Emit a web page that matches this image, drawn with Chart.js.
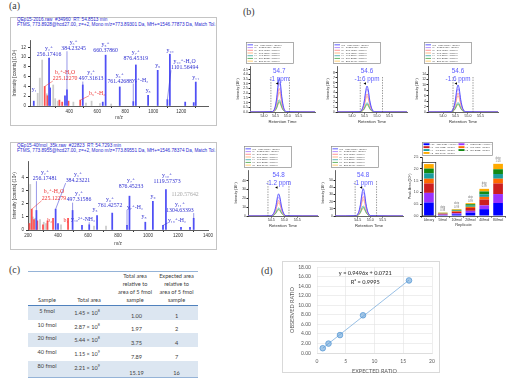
<!DOCTYPE html>
<html><head><meta charset="utf-8">
<script src="https://cdn.jsdelivr.net/npm/chart.js@4.4.1/dist/chart.umd.min.js"></script>
<style>
html,body{margin:0;padding:0;background:#fff;}
body{width:515px;height:383px;overflow:hidden;position:relative;font-family:'Liberation Sans',Arial,sans-serif;}
canvas{position:absolute;}
.pl{position:absolute;font-family:'Liberation Serif','DejaVu Serif',serif;font-size:10px;color:#3a3a3a;line-height:10px;}
.box{position:absolute;border:1px solid #c4c4c4;box-sizing:border-box;background:#fff;}
.hdr{position:absolute;font-size:4.7px;line-height:5px;color:#2a2ad0;white-space:nowrap;overflow:hidden;}
table{position:absolute;border-collapse:collapse;font-family:Lato,'Open Sans',sans-serif;font-size:5.6px;color:#404040;table-layout:fixed;}
th{padding:0 0 1px 0;font-weight:normal;text-align:center;vertical-align:bottom;line-height:8px;white-space:nowrap;}
td{padding:0;text-align:center;white-space:nowrap;line-height:7px;}
.dbox{position:absolute;border:1px solid #d9d9d9;box-sizing:border-box;}
</style></head><body>
<div class="pl" style="left:9px;top:1px">(a)</div>
<div class="pl" style="left:243px;top:7px">(b)</div>
<div class="pl" style="left:9px;top:265px">(c)</div>
<div class="pl" style="left:261px;top:266px">(d)</div>
<div class="box" style="left:10px;top:17px;width:207px;height:109px"></div>
<div class="hdr" style="left:17px;top:16.5px;width:199px">QEp15-2016.raw&nbsp; #34960&nbsp; RT: 54.8513 min<br>FTMS, 773.8928@hcd27.00, z=+2, Mono m/z=773.89301 Da, MH+=1546.77873 Da, Match Tol.=10 ppm</div>
<div class="box" style="left:10px;top:142px;width:207px;height:108px"></div>
<div class="hdr" style="left:17px;top:142.5px;width:199px">QEp15-40fmol_35k.raw&nbsp; #22823&nbsp; RT: 54.7293 min<br>FTMS, 773.8955@hcd27.00, z=+2, Mono m/z=773.89551 Da, MH+=1546.78374 Da, Match Tol.=10 ppm</div>
<div class="dbox" style="left:282px;top:261px;width:158px;height:112px"></div>
<table id="tbl" style="left:28px;top:271px;width:170px">
<colgroup><col style="width:38px"><col style="width:46px"><col style="width:46px"><col style="width:40px"></colgroup>
<thead><tr style="height:34px;border-top:1px solid #95b3d7;border-bottom:1px solid #4f81bd">
<th>Sample</th><th>Total area</th><th>Total area<br>relative to<br>area of 5 fmol<br>sample</th><th style="padding-right:3px">Expected area<br>relative to<br>area of 5 fmol<br>sample</th></tr></thead>
<tbody id="tb"></tbody></table>
<script>
// ---------- (a) spectra ----------
const a1BlueMz=[147,256.17,264,370,384.23,497.32,640,660.38,761.43,858,876.45,964,1032.54,1101.56,1119.57,1229,1290,1304.63];
const a1BlueI=[1.0,9.8,3.7,2.1,3.3,4.3,0.8,10.4,3.9,0.9,8.4,2.2,7.3,1.3,10.6,0.8,0.7,4.9];
const a1RedMz=[225.12,245,330,350,395,479];
const a1RedI=[4.0,2.1,1.2,0.8,1.0,1.2];
const a1GrayMz=[175,190,207,240,286,300,318,430,520,560,620,700];
const a1GrayI=[2.6,5.7,9.4,2.5,4.3,1.5,1.0,0.8,0.6,1.0,0.5,0.4];
const a1Labels=[
 [['y₁'],150,2.9,null,null,'y'],
 [['y₂⁺','256.17416'],256,10.0,null,null,'y'],
 [['b₂⁺-H₂O','225.12270'],371,5.1,225.12,4.0,'b'],
 [['y₃⁺','384.23245'],432,11.2,384.23,3.3,'y'],
 [['y₄⁺','497.31613'],557,5.0,497.32,4.3,'y'],
 [['b₅⁺-H₂'],600,2.1,479,1.2,'b'],
 [['y₅⁺','660.37860'],660,10.8,null,null,'y'],
 [['y₆⁺','761.42688'],761,4.4,null,null,'y'],
 [['y₇⁺','876.45319'],876,9.2,null,null,'y'],
 [['y₇⁺-H₂'],907,4.6,858,0.9,'y'],
 [['y₈'],964,2.6,null,null,'y'],
 [['y₉'],1032,7.8,null,null,'y'],
 [['y₁₀'],1120,10.9,null,null,'y'],
 [['y₁₀⁺-H₂O','1101.56494'],1225,7.3,1101.56,1.3,'y'],
 [['y₁₁'],1304,5.3,null,null,'y']
];
const a2BlueMz=[256.17,384.23,400,497.32,560,608,660.38,761.43,860,876.45,982,1032.54,1100,1119.57,1220,1280,1304.63];
const a2BlueI=[1.5,1.6,0.5,1.5,0.35,0.4,1.1,1.3,0.35,2.6,0.6,2.2,0.35,3.1,0.2,0.2,0.9];
const a2RedMz=[210,225.12,240,262,300,330,367,467];
const a2RedI=[0.5,1.6,0.8,0.7,0.4,0.7,0.9,0.9];
const a2GrayMz=[215,232,248,280,305,320,420,640,720];
const a2GrayI=[3.5,1.0,0.9,0.8,0.6,0.5,0.4,0.3,0.3];
const a2Labels=[
 [['b₂⁺-H₂O','225.12279'],373,2.25,225.12,1.6,'b'],
 [['y₂⁺','256.17481'],313,3.75,256.17,1.5,'y'],
 [['y₃⁺','384.23221'],533,3.6,384.23,1.6,'y'],
 [['b₃'],345,0.55,null,null,'b'],
 [['b₄'],453,0.55,null,null,'b'],
 [['y₄⁺','497.31586'],540,2.1,497.32,1.5,'y'],
 [['y₁₀²⁺-NH₃'],567,0.6,608,0.4,'y'],
 [['y₅'],647,1.4,null,null,'y'],
 [['y₆⁺','761.42572'],747,1.65,null,null,'y'],
 [['y₇⁺','876.45233'],887,3.1,null,null,'y'],
 [['y₇⁺-H₂'],913,1.55,860,0.35,'y'],
 [['y₈'],973,0.85,null,null,'y'],
 [['y₉'],1033,2.35,null,null,'y'],
 [['y₁₀⁺','1119.57373'],1127,3.5,null,null,'y'],
 [['1120.57642'],1247,2.5,null,null,'u'],
 [['y₁₁⁺','1304.63393'],1213,1.3,1304.63,0.9,'y'],
 [['y₁₀⁺-H₂'],1193,0.55,1100,0.35,'y']
];

// ---------- (b) chromatograms ----------
const chromLabels=['y10 - 1119.5737+ (heavy)','y9 - 1032.5420+ (heavy)','y7 - 876.4523+ (heavy)','y6 - 761.4257+ (heavy)','y4 - 497.3159+ (heavy)','y3 - 384.2322+ (heavy)','y2 - 256.1748+ (heavy)'];
const c1Rt=[53.4,54.35,54.47,54.55,54.61,54.66,54.71,54.77,54.85,54.97,56.2];
const c1Y10=[0,0.04,0.43,1.51,2.95,3.6,3.06,1.62,0.47,0.04,0];
const c1Y9=[0,0.03,0.37,1.30,2.54,3.1,2.64,1.40,0.40,0.03,0];
const c1Y7=[0,0.03,0.30,1.05,2.05,2.5,2.13,1.13,0.33,0.03,0];
const c1Y6=[0,0.02,0.25,0.88,1.72,2.1,1.79,0.95,0.27,0.02,0];
const c1Y4=[0,0.01,0.16,0.55,1.07,1.3,1.11,0.59,0.17,0.01,0];
const c1Y3=[0,0.01,0.13,0.46,0.90,1.1,0.94,0.50,0.14,0.01,0];
const c1Y2=[0,0.01,0.12,0.42,0.82,1.0,0.85,0.45,0.13,0.01,0];
const c2Rt=[53.4,54.29,54.41,54.49,54.55,54.60,54.65,54.71,54.79,54.91,56.2];
const c2Y10=[0,0.05,0.64,2.23,4.35,5.3,4.5,2.39,0.69,0.05,0];
const c2Y9=[0,0.05,0.56,1.97,3.85,4.7,4.0,2.12,0.61,0.05,0];
const c2Y7=[0,0.04,0.44,1.55,3.03,3.7,3.15,1.67,0.48,0.04,0];
const c2Y6=[0,0.03,0.38,1.34,2.62,3.2,2.72,1.44,0.42,0.03,0];
const c2Y4=[0,0.02,0.23,0.80,1.56,1.9,1.62,0.86,0.25,0.02,0];
const c2Y3=[0,0.02,0.19,0.67,1.31,1.6,1.36,0.72,0.21,0.02,0];
const c2Y2=[0,0.01,0.17,0.59,1.15,1.4,1.19,0.63,0.18,0.01,0];
const c3Rt=[53.4,54.29,54.41,54.49,54.55,54.60,54.65,54.71,54.79,54.91,56.2];
const c3Y10=[0,0.1,1.2,4.2,8.2,10,8.5,4.5,1.3,0.1,0];
const c3Y9=[0,0.09,1.03,3.61,7.05,8.6,7.31,3.87,1.12,0.09,0];
const c3Y7=[0,0.07,0.84,2.94,5.74,7,5.95,3.15,0.91,0.07,0];
const c3Y6=[0,0.06,0.72,2.52,4.92,6,5.1,2.7,0.78,0.06,0];
const c3Y4=[0,0.04,0.42,1.47,2.87,3.5,2.98,1.58,0.46,0.04,0];
const c3Y3=[0,0.03,0.36,1.26,2.46,3.0,2.55,1.35,0.39,0.03,0];
const c3Y2=[0,0.03,0.32,1.13,2.21,2.7,2.3,1.22,0.35,0.03,0];
const c4Rt=[53.6,54.47,54.59,54.67,54.73,54.78,54.83,54.89,54.97,55.09,56.3];
const c4Y10=[0,0.25,3.0,10.5,20.5,25,21.3,11.3,3.3,0.25,0];
const c4Y9=[0,0.22,2.58,9.03,17.6,21.5,18.3,9.68,2.8,0.22,0];
const c4Y7=[0,0.18,2.1,7.35,14.4,17.5,14.9,7.88,2.28,0.18,0];
const c4Y6=[0,0.15,1.8,6.3,12.3,15,12.8,6.75,1.95,0.15,0];
const c4Y4=[0,0.09,1.08,3.78,7.38,9,7.65,4.05,1.17,0.09,0];
const c4Y3=[0,0.08,0.9,3.15,6.15,7.5,6.38,3.38,0.98,0.08,0];
const c4Y2=[0,0.07,0.82,2.86,5.58,6.8,5.78,3.06,0.88,0.07,0];
const c5Rt=[53.6,54.41,54.53,54.61,54.67,54.72,54.77,54.83,54.91,55.03,56.3];
const c5Y10=[0,0.38,4.56,16,31.2,38,32.3,17.1,4.94,0.38,0];
const c5Y9=[0,0.33,3.96,13.9,27.1,33,28.1,14.9,4.29,0.33,0];
const c5Y7=[0,0.27,3.24,11.3,22.1,27,23,12.2,3.51,0.27,0];
const c5Y6=[0,0.23,2.76,9.66,18.9,23,19.6,10.4,2.99,0.23,0];
const c5Y4=[0,0.14,1.68,5.88,11.5,14,11.9,6.3,1.82,0.14,0];
const c5Y3=[0,0.12,1.44,5.04,9.84,12,10.2,5.4,1.56,0.12,0];
const c5Y2=[0,0.11,1.26,4.41,8.61,10.5,8.93,4.73,1.37,0.11,0];
const chromPeakRt=[54.66,54.60,54.60,54.78,54.72];
const chromRtText=['54.7','54.6','54.6','54.8','54.8'];
const chromPpmText=['-1 ppm','-1.6 ppm','-1.6 ppm','-1.2 ppm','-1 ppm'];
const chromBounds=[[54.3,55.1],[54.33,55.22],[54.4,55.2],[54.37,55.18],[54.4,55.25]];

// bar chart of peak areas
const barCats=['Library','5fmol','10fmol','20fmol','40fmol','80fmol'];
const barY10=[0.57,0.035,0.07,0.14,0.29,0.55];
const barY9=[0.41,0.025,0.045,0.08,0.16,0.38];
const barY7=[0.40,0.03,0.06,0.12,0.25,0.45];
const barY6=[0.20,0.015,0.03,0.05,0.11,0.20];
const barY4=[0.23,0.013,0.027,0.05,0.11,0.20];
const barY3=[0.20,0.015,0.03,0.06,0.12,0.20];
const barY2=[0.19,0.012,0.025,0.044,0.11,0.23];
const barDotp=['','0.98','0.99','0.99','0.99','1.00'];

// ---------- (c) table ----------
const tSample=['5 fmol','10 fmol','20 fmol','40 fmol','80 fmol'];
const tTotalMant=['1.45','2.87','5.44','1.15','2.21'];
const tTotalExp=['8','8','8','9','9'];
const tRelative=['1.00','1.97','3.75','7.89','15.19'];
const tExpected=['1','2','4','7','16'];

// ---------- (d) ratio plot ----------
const dExpected=[1,2,4,8,16];
const dObserved=[1.00,1.97,3.75,7.89,15.19];
const dTrendX=[1,16];
const dTrendY=[1.02,15.27];

// ================= drawing =================
Chart.defaults.font.family="'Liberation Sans', Arial, sans-serif";
Chart.defaults.color='#333';

function mk(L,T,W,H,pl,pt,pr,pb,cfg){
  const c=document.createElement('canvas');
  c.width=W;c.height=H;
  c.style.left=L+'px';c.style.top=T+'px';c.style.width=W+'px';c.style.height=H+'px';
  document.body.appendChild(c);
  const o=cfg.options;
  o.responsive=false;o.maintainAspectRatio=false;o.animation=false;o.devicePixelRatio=1;o.events=[];
  o.layout={padding:{left:0,top:pt-T,right:L+W-pr,bottom:0}};
  o.plugins=Object.assign({legend:{display:false},tooltip:{enabled:false}},o.plugins||{});
  const yW=pl-L,xH=T+H-pb;
  o.scales.x.afterFit=s=>{s.height=xH;s.paddingLeft=0;s.paddingRight=0;s.paddingTop=0;s.paddingBottom=0;};
  o.scales.y.afterFit=s=>{s.width=yW;s.paddingLeft=0;s.paddingRight=0;s.paddingTop=0;s.paddingBottom=0;};
  return new Chart(c.getContext('2d'),cfg);
}
function stepFilter(step){return s=>{s.ticks=s.ticks.filter(t=>Math.abs(t.value/step-Math.round(t.value/step))<1e-6);};}

function specLabels(labels){
  return {id:'sl',afterDatasetsDraw(chart){
    const ctx=chart.ctx,x=chart.scales.x,y=chart.scales.y;
    ctx.save();ctx.font='5.8px "Liberation Serif","DejaVu Serif",serif';ctx.textAlign='center';ctx.textBaseline='alphabetic';
    labels.forEach(l=>{
      const [lines,lx,ly,pm,pi,kind]=l;
      const col=kind==='b'?'#ee3030':kind==='u'?'#a8a8a8':'#3030d0';
      const px=x.getPixelForValue(lx),py=y.getPixelForValue(ly);
      ctx.fillStyle=col;let w=0;const lh=6.2;
      lines.forEach((s,i)=>{ctx.fillText(s,px,py-1.2-(lines.length-1-i)*lh);w=Math.max(w,ctx.measureText(s).width);});
      if(pm!==null){
        const tx=x.getPixelForValue(pm),ty=y.getPixelForValue(pi);
        const sx=Math.min(Math.max(tx,px-w/2),px+w/2);
        ctx.strokeStyle=col;ctx.lineWidth=0.5;ctx.beginPath();ctx.moveTo(sx,py);ctx.lineTo(tx,ty);ctx.stroke();
      }
    });
    ctx.restore();
  }};
}
function spectrum(L,T,W,H,pl,pt,pr,pb,xmin,xmax,ymax,ystep,bm,bi,rm,ri,gm,gi,labels,xtp){
  const pts=(m,v)=>m.map((q,k)=>({x:q,y:v[k]}));
  const ds=(d,c)=>({data:d,backgroundColor:c,barThickness:1.1,grouped:false});
  return mk(L,T,W,H,pl,pt,pr,pb,{type:'bar',
    data:{datasets:[ds(pts(bm,bi),'#5050f5'),ds(pts(rm,ri),'#ff5050'),ds(pts(gm,gi),'#cbcbcb')]},
    options:{scales:{
      x:{type:'linear',offset:false,min:xmin,max:xmax,afterBuildTicks:stepFilter(200),
         ticks:{stepSize:200,font:{size:4.5},padding:1,maxRotation:0,autoSkip:false,color:'#333',callback:v=>String(Math.round(v))},
         grid:{drawOnChartArea:false,tickLength:2,color:'#333'},border:{color:'#333',width:0.8},
         title:{display:true,text:'m/z',font:{size:4.7},padding:xtp,color:'#333'}},
      y:{min:0,max:ymax,afterBuildTicks:stepFilter(ystep),
         ticks:{stepSize:ystep,font:{size:4.5},padding:2,autoSkip:false,color:'#333',callback:v=>String(Math.round(v))},
         grid:{drawOnChartArea:false,tickLength:2,color:'#333'},border:{color:'#333',width:0.8},
         title:{display:true,text:'Intensity [counts] (10⁴)',font:{size:4.7},padding:1.2,color:'#333'}}
    }},
    plugins:[specLabels(labels)]});
}
spectrum(11,27,205,98,30,40,208,106,120,1392,13.5,2,a1BlueMz,a1BlueI,a1RedMz,a1RedI,a1GrayMz,a1GrayI,a1Labels,4.2);
spectrum(11,152,205,97,28,161,208,230,200,1400,5.3,1,a2BlueMz,a2BlueI,a2RedMz,a2RedI,a2GrayMz,a2GrayI,a2Labels,2.2);

// chromatograms
const chromColors=['#4b4bff','#b088ff','#ff8a8a','#ffb07a','#4cb0b0','#58b058','#ffc864'];
function chromDeco(idx){
  return {id:'cd',afterDraw(chart){
    const ctx=chart.ctx,a=chart.chartArea,x=chart.scales.x;
    ctx.save();
    ctx.strokeStyle='#555';ctx.lineWidth=0.6;ctx.setLineDash([1.4,1.2]);
    chromBounds[idx].forEach(b=>{const px=x.getPixelForValue(b);ctx.beginPath();ctx.moveTo(px,a.top+11);ctx.lineTo(px,a.bottom);ctx.stroke();});
    ctx.setLineDash([]);
    const px=x.getPixelForValue(chromPeakRt[idx]);
    ctx.fillStyle='#5a5aff';ctx.font='6.3px "Liberation Sans"';ctx.textAlign='center';ctx.textBaseline='middle';
    ctx.fillText(chromRtText[idx],px,a.top+5.5);ctx.fillText(chromPpmText[idx],px,a.top+13.5);
    ctx.fillStyle='#000';ctx.beginPath();ctx.moveTo(px-3.5,a.top+17.5);ctx.lineTo(px-1,a.top+16.3);ctx.lineTo(px-1,a.top+18.7);ctx.closePath();ctx.fill();
    const lx=a.left-4,ly=a.top-24,lw=47,lh=21;
    ctx.fillStyle='#fff';ctx.fillRect(lx,ly,lw,lh);
    ctx.strokeStyle='#8a8a8a';ctx.lineWidth=0.7;ctx.strokeRect(lx+0.5,ly+0.5,lw,lh);
    ctx.font='2.5px "Liberation Sans"';ctx.textAlign='left';ctx.textBaseline='middle';
    const rh=(lh-2)/chromLabels.length;
    chromLabels.forEach((t,i)=>{const yy=ly+1.5+rh*(i+0.5);
      ctx.strokeStyle=chromColors[i];ctx.lineWidth=0.9;ctx.beginPath();ctx.moveTo(lx+1.5,yy);ctx.lineTo(lx+7,yy);ctx.stroke();
      ctx.fillStyle='#444';ctx.fillText(t,lx+8,yy);});
    ctx.restore();
  }};
}
function chrom(idx,L,T,W,H,pl,pt,pr,pb,rt,series,xmin,xmax,ymax,ystep,ydec){
  const dsets=series.map((s,i)=>({data:rt.map((r,k)=>({x:r,y:s[k]})),borderColor:chromColors[i],borderWidth:i===0?0.9:0.8,pointRadius:0,cubicInterpolationMode:'monotone',fill:false}));
  return mk(L,T,W,H,pl,pt,pr,pb,{type:'line',data:{datasets:dsets},
    options:{scales:{
      x:{type:'linear',min:xmin,max:xmax,afterBuildTicks:stepFilter(0.5),
         ticks:{stepSize:0.5,font:{size:3.6},padding:0.8,maxRotation:0,autoSkip:false,callback:v=>v.toFixed(1),color:'#333'},
         grid:{drawOnChartArea:false,tickLength:1.5,color:'#222'},border:{color:'#222',width:0.7},
         title:{display:true,text:'Retention Time',font:{size:4.2},padding:1.8,color:'#333'}},
      y:{min:0,max:ymax,afterBuildTicks:stepFilter(ystep),
         ticks:{stepSize:ystep,font:{size:3.4},padding:0.6,autoSkip:false,callback:v=>v.toFixed(ydec),color:'#333'},
         grid:{drawOnChartArea:false,tickLength:1.5,color:'#222'},border:{color:'#222',width:0.7},
         title:{display:true,text:'Intensity (10⁴)',font:{size:3.4},padding:2,color:'#333'}}
    }},
    plugins:[chromDeco(idx)]});
}
chrom(0,234,38,86,88,250,66,315,112,c1Rt,[c1Y10,c1Y9,c1Y7,c1Y6,c1Y4,c1Y3,c1Y2],53.4,56.2,4.9,0.5,1);
chrom(1,324,38,88,88,337,66,407,112,c2Rt,[c2Y10,c2Y9,c2Y7,c2Y6,c2Y4,c2Y3,c2Y2],53.4,56.2,9.4,1,0);
chrom(2,413,38,90,88,428,66,498,112,c3Rt,[c3Y10,c3Y9,c3Y7,c3Y6,c3Y4,c3Y3,c3Y2],53.4,56.2,17,2,0);
chrom(3,232,142,90,88,248,170,318,216,c4Rt,[c4Y10,c4Y9,c4Y7,c4Y6,c4Y4,c4Y3,c4Y2],53.6,56.3,52,10,0);
chrom(4,319,142,88,88,335,170,403,216,c5Rt,[c5Y10,c5Y9,c5Y7,c5Y6,c5Y4,c5Y3,c5Y2],53.6,56.3,64,10,0);

// stacked bars
const barColors=['#0000ff','#9933ff','#cc1f1f','#ff6a00','#1a9e9e','#138a13','#ffaa00'];
const barSeries=[barY10,barY9,barY7,barY6,barY4,barY3,barY2];
const barDeco={id:'bd',afterDraw(chart){
  const ctx=chart.ctx,a=chart.chartArea;
  ctx.save();
  const lx=a.left,ly=a.top-15,lw=70,lh=13;
  ctx.fillStyle='#fff';ctx.fillRect(lx,ly,lw,lh);ctx.strokeStyle='#8a8a8a';ctx.lineWidth=0.7;ctx.strokeRect(lx+0.5,ly+0.5,lw,lh);
  ctx.font='2.4px "Liberation Sans"';ctx.textBaseline='middle';ctx.textAlign='left';
  chromLabels.forEach((t,i)=>{const cx=lx+1.5+(i%2)*35,cy=ly+2.2+Math.floor(i/2)*2.9;
    ctx.fillStyle=barColors[i];ctx.fillRect(cx,cy-0.9,6,1.9);ctx.fillStyle='#444';ctx.fillText(t,cx+7,cy);});
  const last=chart.getDatasetMeta(barSeries.length-1);
  last.data.forEach((el,i)=>{
    if(i===0){ctx.strokeStyle='#222';ctx.lineWidth=0.7;ctx.strokeRect(el.x-el.width/2-2,el.y-1.5,el.width+4,a.bottom-el.y+1.5);return;}
    ctx.fillStyle='#777';ctx.font='2.6px "Liberation Sans"';ctx.textAlign='center';ctx.textBaseline='bottom';
    ctx.fillText('dotp',el.x,el.y-4.2);ctx.fillText(barDotp[i],el.x,el.y-1);
  });
  ctx.restore();
}};
mk(406,138,103,91,422,157,505,216,{type:'bar',
  data:{labels:barCats,datasets:barSeries.map((s,i)=>({data:s,backgroundColor:barColors[i],barPercentage:0.7,categoryPercentage:1}))},
  options:{scales:{
    x:{stacked:true,ticks:{font:{size:3.4},padding:0.6,maxRotation:0,autoSkip:false,color:'#333'},
       grid:{drawOnChartArea:false,tickLength:1.5,color:'#222'},border:{color:'#222',width:0.7},
       title:{display:true,text:'Replicate',font:{size:4},padding:1.6,color:'#333'}},
    y:{stacked:true,min:0,max:2.5,ticks:{stepSize:0.5,font:{size:3.4},padding:1.5,callback:v=>v.toFixed(1),color:'#333'},
       grid:{drawOnChartArea:false,tickLength:2,color:'#222'},border:{color:'#222',width:0.7},
       title:{display:true,text:'Peak Area (10⁹)',font:{size:3.6},padding:1.6,color:'#333'}}
  }},plugins:[barDeco]});

// table rows
const tb=document.getElementById('tb');
const rowH=[14,13,14,14,17];
tSample.forEach((s,i)=>{
  const tr=document.createElement('tr');
  tr.style.height=rowH[i]+'px';
  if(i%2===0)tr.style.background='#dce6f1';
  if(i===tSample.length-1)tr.style.borderBottom='1px solid #95b3d7';
  tr.innerHTML='<td style="vertical-align:top;padding-top:1px">'+s+'</td>'+
    '<td style="vertical-align:top;padding-top:1px;padding-right:4px">'+tTotalMant[i]+' × 10<sup style="font-size:3.6px">'+tTotalExp[i]+'</sup></td>'+
    '<td style="vertical-align:bottom;padding-bottom:1px;padding-left:3px">'+tRelative[i]+'</td>'+
    '<td style="vertical-align:bottom;padding-bottom:1px;padding-right:3px">'+tExpected[i]+'</td>';
  tb.appendChild(tr);
});

// (d) scatter with trend line
const dDeco={id:'dd',afterDatasetsDraw(chart){
  const ctx=chart.ctx,x=chart.scales.x,y=chart.scales.y;
  ctx.save();ctx.fillStyle='#404040';ctx.font='600 5.6px Lato,"Open Sans",sans-serif';ctx.textAlign='center';ctx.textBaseline='middle';
  ctx.fillText('y = 0.9496x + 0.0721',x.getPixelForValue(8.4),y.getPixelForValue(16.7));
  ctx.fillText('R² = 0.9995',x.getPixelForValue(8.4),y.getPixelForValue(14.85));
  ctx.restore();
}};
mk(282,261,158,116,317,267,432,353,{type:'scatter',
  data:{datasets:[
    {data:dExpected.map((v,i)=>({x:v,y:dObserved[i]})),pointRadius:2.8,backgroundColor:'rgba(91,155,213,0.55)',borderColor:'#5b9bd5',borderWidth:0.8},
    {data:dTrendX.map((v,i)=>({x:v,y:dTrendY[i]})),showLine:true,pointRadius:0,borderColor:'#7fb0de',borderWidth:0.8}
  ]},
  options:{scales:{
    x:{type:'linear',min:0,max:20,ticks:{stepSize:5,font:{family:'Lato',size:5},padding:5,color:'#595959'},
       grid:{color:'#e3e3e3',drawTicks:false,lineWidth:0.6},border:{color:'#d9d9d9',width:0.8},
       title:{display:true,text:'EXPECTED RATIO',font:{family:'Lato',size:5.5},padding:2.7,color:'#595959'}},
    y:{min:0,max:18,ticks:{stepSize:2,font:{family:'Lato',size:5},padding:6,callback:v=>v.toFixed(2),color:'#595959'},
       grid:{color:'#e3e3e3',drawTicks:false,lineWidth:0.6},border:{display:false},
       title:{display:true,text:'OBSERVED RATIO',font:{family:'Lato',size:5.5},padding:6.7,color:'#595959'}}
  }},plugins:[dDeco]});
</script>
</body></html>
